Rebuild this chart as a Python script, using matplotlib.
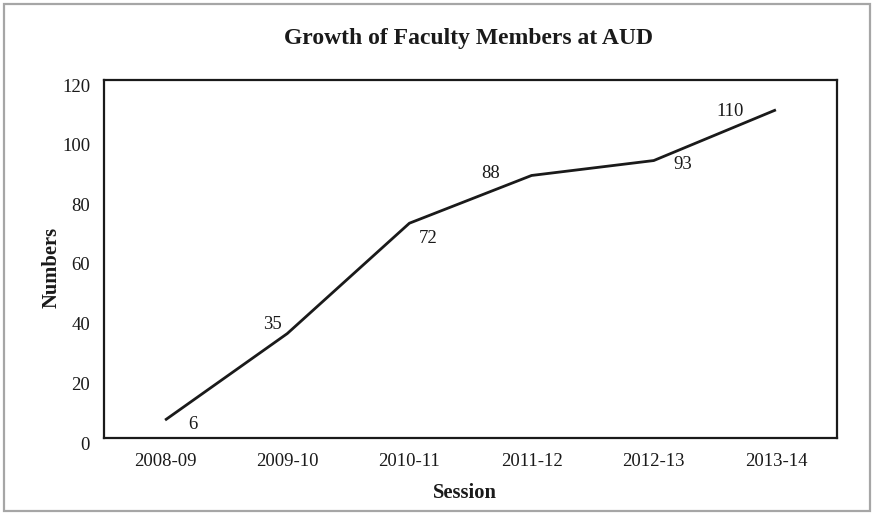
import matplotlib
matplotlib.use("Agg")
import matplotlib.pyplot as plt
import matplotlib.transforms as mtransforms
from matplotlib.patches import Rectangle

# Data
sessions = ["2008-09", "2009-10", "2010-11", "2011-12", "2012-13", "2013-14"]
faculty = [6, 35, 72, 88, 93, 110]
yticks = [0, 20, 40, 60, 80, 100, 120]
# label offsets (pixels) for the data labels
label_offsets = [(28, -4), (-15, 9), (19, -15), (-41, 2), (29, -4), (-46, -2)]

FONT = "Liberation Serif"
plt.rcParams["font.family"] = [FONT, "DejaVu Serif"]

W, H = 874, 515
fig = plt.figure(figsize=(W / 100, H / 100), dpi=100)
fig.patch.set_facecolor("white")

# outer grey frame
fig.add_artist(Rectangle((4 / W, 4 / H), (W - 8) / W, (H - 8) / H,
                         transform=fig.transFigure, fill=False,
                         edgecolor="#a6a6a6", linewidth=1.6))

left, right, top, bottom = 104, 837, 80, 438
ax = fig.add_axes([left / W, (H - bottom) / H, (right - left) / W, (bottom - top) / H])

x = list(range(len(sessions)))
ax.plot(x, faculty, color="#1a1a1a", linewidth=2.0, solid_capstyle="butt")

for xi, v, (dx, dy) in zip(x, faculty, label_offsets):
    ax.annotate(str(v), (xi, v), xytext=(dx, dy), textcoords="offset pixels",
                ha="center", va="center", fontsize=13.5, color="#1a1a1a")

ax.set_xlim(-0.5, len(sessions) - 0.5)
ax.set_ylim(0, 120)
ax.set_xticks(x)
ax.set_xticklabels(sessions)
ax.set_yticks(yticks)
ax.set_yticklabels([str(t) for t in yticks])
ax.tick_params(axis="both", length=0, labelsize=13.5, colors="#1a1a1a")
ax.tick_params(axis="y", pad=10)
ax.tick_params(axis="x", pad=11)

shift = mtransforms.ScaledTranslation(0, -5 / 100, fig.dpi_scale_trans)
for lbl in ax.get_yticklabels():
    lbl.set_transform(lbl.get_transform() + shift)

for s in ax.spines.values():
    s.set_linewidth(1.6)
    s.set_color("#1a1a1a")

ax.set_xlabel("Session", fontsize=14.8, fontweight="bold", color="#1a1a1a")
ax.set_ylabel("Numbers", fontsize=14.8, fontweight="bold", color="#1a1a1a")
ax.xaxis.set_label_coords((464.5 - left) / (right - left), (bottom - 493) / (bottom - top))
ax.yaxis.set_label_coords((52 - left) / (right - left), (bottom - 267) / (bottom - top))
ax.xaxis.label.set_va("center")
ax.yaxis.label.set_va("center")

fig.text(468 / W, 1 - 44 / H, "Growth of Faculty Members at AUD", ha="center",
         va="baseline", fontsize=17, fontweight="bold", color="#1a1a1a")

fig.savefig("out.png", dpi=100, facecolor="white")
